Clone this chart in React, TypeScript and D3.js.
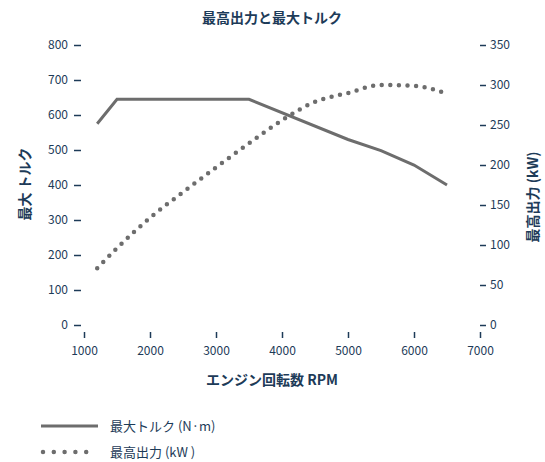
import { useRef, useEffect } from 'react';
import * as d3 from 'd3';

const rpm = [1200, 1500, 2000, 2500, 3000, 3500, 4000, 4500, 5000, 5500, 6000, 6500];
const torqueRpm = [1200, 1500, 3500, 5000, 5500, 6000, 6500];
const torque = [575, 645, 645, 530, 498, 457, 400];
const power = [71, 96, 134, 166, 197, 227, 256, 279, 290, 300, 299, 289];
const xTicks = [1000, 2000, 3000, 4000, 5000, 6000, 7000];
const leftTicks = [0, 100, 200, 300, 400, 500, 600, 700, 800];
const rightTicks = [0, 50, 100, 150, 200, 250, 300, 350];

const NAVY = '#1d3b58';
const GREY = '#6d6d6d';
const FONT = '"Noto Sans CJK JP", "Noto Sans", sans-serif';

const App = () => {
  const svgRef = useRef<SVGSVGElement>(null);

  useEffect(() => {
    const svg = d3.select(svgRef.current);
    svg.selectAll('*').remove();

    const x = d3.scaleLinear().domain([1000, 7000]).range([84, 480]);
    const yL = d3.scaleLinear().domain([0, 800]).range([325, 45]);
    const yR = d3.scaleLinear().domain([0, 350]).range([325, 45]);

    const styleAxis = (g: d3.Selection<SVGGElement, unknown, null, undefined>) => {
      g.select('.domain').remove();
      g.selectAll('line').attr('stroke', NAVY).attr('stroke-width', 1.5);
      g.selectAll('text').attr('fill', NAVY).attr('font-size', 12).attr('font-family', FONT);
    };

    svg.append('g')
      .attr('transform', 'translate(81,0)')
      .call(d3.axisLeft(yL).tickValues(leftTicks).tickSize(7).tickPadding(6))
      .call(styleAxis);

    svg.append('g')
      .attr('transform', 'translate(480,0)')
      .call(d3.axisRight(yR).tickValues(rightTicks).tickSize(6).tickPadding(4))
      .call(styleAxis);

    svg.append('g')
      .attr('transform', 'translate(0,332)')
      .call(d3.axisBottom(x).tickValues(xTicks).tickFormat(d3.format('d')).tickSize(6).tickPadding(8))
      .call(styleAxis);

    // torque line
    const tLine = d3.line<number>()
      .x((_, i) => x(torqueRpm[i]))
      .y(d => yL(d));
    svg.append('path')
      .attr('d', tLine(torque))
      .attr('fill', 'none')
      .attr('stroke', GREY)
      .attr('stroke-width', 3);

    // power dotted line
    const pLine = d3.line<number>()
      .x((_, i) => x(rpm[i]))
      .y(d => yR(d))
      .curve(d3.curveMonotoneX);
    svg.append('path')
      .attr('d', pLine(power))
      .attr('fill', 'none')
      .attr('stroke', GREY)
      .attr('stroke-width', 4.5)
      .attr('stroke-linecap', 'round')
      .attr('stroke-dasharray', '0 8.6');

    // titles
    svg.append('text')
      .attr('x', 272).attr('y', 23)
      .attr('text-anchor', 'middle')
      .attr('font-size', 14).attr('font-weight', 'bold')
      .attr('font-family', FONT).attr('fill', NAVY)
      .text('最高出力と最大トルク');

    svg.append('text')
      .attr('x', 272).attr('y', 385)
      .attr('text-anchor', 'middle')
      .attr('font-size', 14).attr('font-weight', 'bold')
      .attr('font-family', FONT).attr('fill', NAVY)
      .text('エンジン回転数 RPM');

    svg.append('text')
      .attr('transform', 'translate(30,184) rotate(-90)')
      .attr('text-anchor', 'middle')
      .attr('font-size', 14).attr('font-weight', 'bold')
      .attr('font-family', FONT).attr('fill', NAVY)
      .text('最大 トルク');

    svg.append('text')
      .attr('transform', 'translate(538,197) rotate(-90)')
      .attr('text-anchor', 'middle')
      .attr('font-size', 14).attr('font-weight', 'bold')
      .attr('font-family', FONT).attr('fill', NAVY)
      .text('最高出力 (kW)');

    // legend
    const leg = svg.append('g');
    leg.append('line')
      .attr('x1', 41).attr('x2', 98).attr('y1', 426).attr('y2', 426)
      .attr('stroke', GREY).attr('stroke-width', 3);
    leg.append('line')
      .attr('x1', 43).attr('x2', 97).attr('y1', 452).attr('y2', 452)
      .attr('stroke', GREY).attr('stroke-width', 4.5)
      .attr('stroke-linecap', 'round')
      .attr('stroke-dasharray', '0 10.8');
    leg.append('text')
      .attr('x', 110).attr('y', 430.5)
      .attr('font-size', 13).attr('font-family', FONT).attr('fill', NAVY)
      .text('最大トルク (N·m)');
    leg.append('text')
      .attr('x', 110).attr('y', 456.5)
      .attr('font-size', 13).attr('font-family', FONT).attr('fill', NAVY)
      .text('最高出力 (kW )');
  }, []);

  return <svg ref={svgRef} width={545} height={462} style={{ position: 'absolute', left: 0, top: 0 }}></svg>;
};

export default App;
